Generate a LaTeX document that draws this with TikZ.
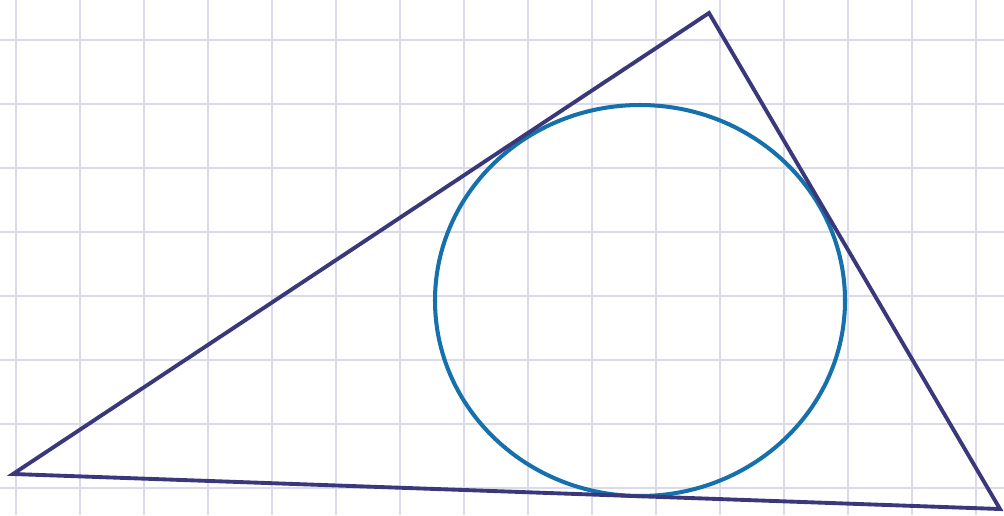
\documentclass[tikz,border=0pt]{standalone}
\usepackage{tikz}
\definecolor{GridLilac}{RGB}{218,218,234}
\definecolor{EdgeNavy}{RGB}{58,56,122}
\definecolor{CircleBlue}{RGB}{22,112,172}
\tikzset{
  gridline/.style={draw=GridLilac, line width=0.9pt},
  edge/.style={draw=EdgeNavy, line width=2.2pt, line join=miter},
  incircle/.style={draw=CircleBlue, line width=2.3pt}
}

\begin{document}
\begin{tikzpicture}[x=0.02cm, y=-0.02cm]
\useasboundingbox[fill=white] (0,0) rectangle (1004,515);
% squared paper
\foreach \gx in {16,80,...,976}
  \draw[gridline] (\gx,0) -- (\gx,515);
\foreach \gy in {40,104,...,488}
  \draw[gridline] (0,\gy) -- (1004,\gy);
% triangle corners
\coordinate (left) at (13,474);
\coordinate (top) at (709,13);
\coordinate (right) at (1000,509);
\coordinate (centre) at (640,300.5);
% inscribed circle
\draw[incircle] (centre) ellipse [x radius=205, y radius=195.5];
\draw[edge] (left) -- (top) -- (right) -- cycle;
\end{tikzpicture}
\end{document}
